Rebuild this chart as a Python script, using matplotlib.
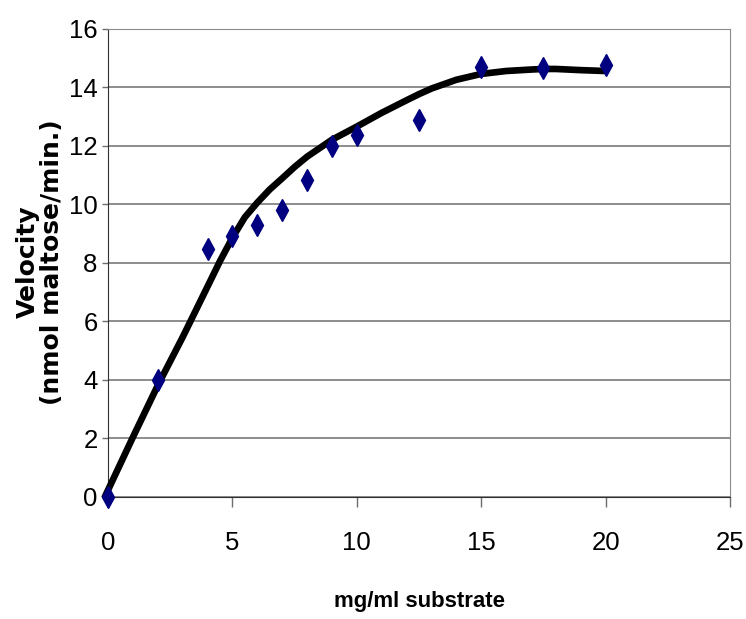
import numpy as np
import matplotlib.pyplot as plt

# measured substrate concentration (mg/ml) and velocity (nmol maltose/min)
substrate = [0, 2, 4, 5, 6, 7, 8, 9, 10, 12.5, 15, 17.5, 20]
velocity = [0.0, 4.0, 8.45, 8.9, 9.3, 9.8, 10.82, 12.0, 12.35, 12.88, 14.7, 14.67, 14.75]

# smoothed trend curve
curve_x = [-0.15, 1, 2, 3, 4, 4.5, 5, 5.5, 6, 6.5, 7, 7.5, 8, 9, 10, 11, 12, 12.5,
           13, 14, 15, 16, 17, 17.5, 18, 19, 20]
curve_y = [-0.05, 2.03, 3.8, 5.45, 7.18, 8.05, 8.85, 9.55, 10.05, 10.5, 10.88, 11.27,
           11.62, 12.2, 12.65, 13.12, 13.55, 13.76, 13.95, 14.25, 14.45, 14.55, 14.6,
           14.62, 14.62, 14.58, 14.55]

x_ticks = [0, 5, 10, 15, 20, 25]
y_ticks = [0, 2, 4, 6, 8, 10, 12, 14, 16]

narrow = ['Liberation Sans Narrow', 'Liberation Sans', 'DejaVu Sans']

fig = plt.figure(figsize=(7.46, 6.19), dpi=100)
ax = fig.add_axes([108 / 746, 1 - 496.6 / 619, 622 / 746, 468 / 619])

ax.plot(curve_x, curve_y, color='black', lw=4.8, solid_capstyle='butt',
        solid_joinstyle='round', zorder=3, clip_on=False)
ax.plot(substrate, velocity, linestyle='none', marker='d', ms=11,
        color='#000080', mec='#000080', zorder=4, clip_on=False)

ax.set_xlim(0, 25)
ax.set_ylim(0, 16)
ax.set_xticks(x_ticks)
ax.set_yticks(y_ticks)
ax.yaxis.grid(True, color='#6e6e6e', lw=1.1)
ax.set_axisbelow(True)

for side in ['top', 'right']:
    ax.spines[side].set_color('#8c8c8c')
ax.spines['left'].set_color('#303030')
ax.spines['bottom'].set_color('#303030')

ax.tick_params(axis='x', length=7, width=1, color='#6e6e6e', pad=18)
ax.tick_params(axis='y', length=4.5, width=1, color='#6e6e6e', pad=3)
for lab in ax.get_xticklabels() + ax.get_yticklabels():
    lab.set_family(narrow)
    lab.set_fontsize(18.5)

ax.set_xlabel('mg/ml substrate', family=narrow, fontsize=16, fontweight='bold',
              labelpad=26)
fig.text(40 / 746, 1 - 262 / 619, 'Velocity\n(nmol maltose/min.)', rotation=90,
         ha='center', va='center', multialignment='center',
         fontsize=18, fontweight='bold', linespacing=1.0)

fig.savefig('out.png', dpi=100)
